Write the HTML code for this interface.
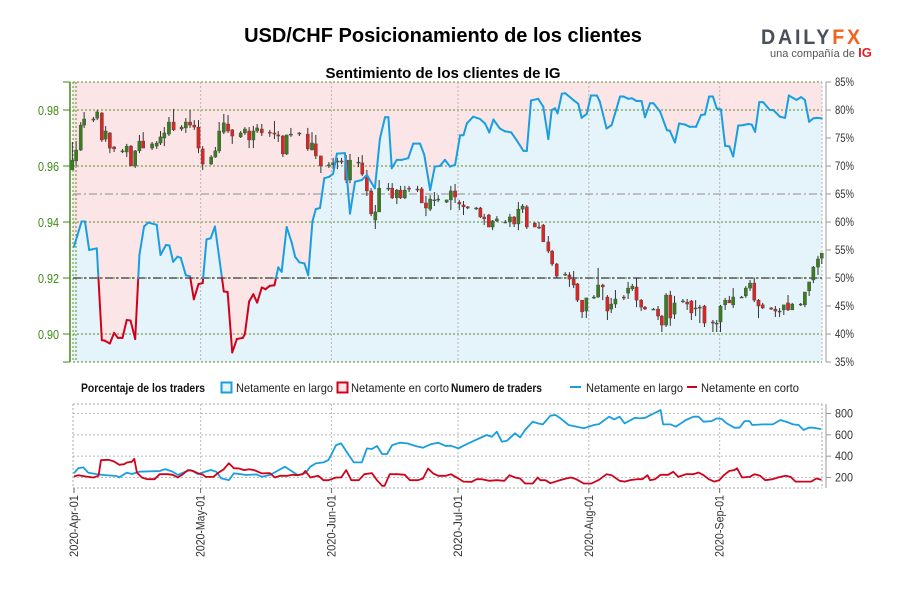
<!DOCTYPE html>
<html><head><meta charset="utf-8"><style>
body{margin:0;background:#fff;width:900px;height:600px;overflow:hidden;font-family:"Liberation Sans",sans-serif}
svg text{font-family:"Liberation Sans",sans-serif}
</style></head><body>
<svg id="c" width="900" height="600" xmlns="http://www.w3.org/2000/svg">
<text x="443" y="42" text-anchor="middle" font-size="20" font-weight="bold" fill="#000">USD/CHF Posicionamiento de los clientes</text>
<text x="443" y="78" text-anchor="middle" font-size="15" font-weight="bold" fill="#000">Sentimiento de los clientes de IG</text>
<g>
<text x="761" y="44" font-size="21" font-weight="bold" fill="#4a4f5a" letter-spacing="3" textLength="102" lengthAdjust="spacingAndGlyphs">DAILY<tspan fill="#f0641e">FX</tspan></text>
<text x="770" y="57" font-size="11" fill="#555">una compañía de <tspan fill="#e3202a" font-weight="bold" font-size="13">IG</tspan></text>
</g>
<g id="main"></g>
<g id="bottom"></g>
<g id="legend" font-size="12">
<text x="81" y="392" font-weight="bold" fill="#111" textLength="124" lengthAdjust="spacingAndGlyphs">Porcentaje de los traders</text>
<rect x="221.5" y="382.5" width="10" height="10" fill="#e5f3fb" stroke="#1a9ee0" stroke-width="2"/>
<text x="236" y="392" fill="#222" textLength="97" lengthAdjust="spacingAndGlyphs">Netamente en largo</text>
<rect x="337.5" y="382.5" width="10" height="10" fill="#fbe5e6" stroke="#d0021b" stroke-width="2"/>
<text x="351" y="392" fill="#222" textLength="98" lengthAdjust="spacingAndGlyphs">Netamente en corto</text>
<text x="451" y="392" font-weight="bold" fill="#111" textLength="91" lengthAdjust="spacingAndGlyphs">Numero de traders</text>
<line x1="570" y1="387" x2="581" y2="387" stroke="#1a9ee0" stroke-width="2"/>
<text x="586" y="392" fill="#222" textLength="97" lengthAdjust="spacingAndGlyphs">Netamente en largo</text>
<line x1="687" y1="387" x2="697" y2="387" stroke="#d0021b" stroke-width="2"/>
<text x="701" y="392" fill="#222" textLength="98" lengthAdjust="spacingAndGlyphs">Netamente en corto</text>
</g>
</svg>
<script>
// ---- data ----
var monthLabels=["2020-Apr-01","2020-May-01","2020-Jun-01","2020-Jul-01","2020-Aug-01","2020-Sep-01"];
var monthDays=[0,30,61,91,122,153];
var pctTicks=[85,80,75,70,65,60,55,50,45,40,35];
var priceTicks=[0.98,0.96,0.94,0.92,0.90];
var countTicks=[200,400,600,800];
var sentDays=[0,1.8,2.6,3.6,5.4,6.6,7.3,8.5,9.5,10.4,11.5,12.5,13.4,14.5,15.5,16.6,17.6,19.6,20.5,21.8,22.6,23.5,24.5,25.3,26.5,27.5,28.4,29.5,30.5,31.4,32.4,33.4,35.5,36.4,37.5,38.6,40.0,40.5,41.5,42.5,43.4,44.5,45.4,46.4,47.5,48.4,49.2,50.4,51.6,52.4,53.4,54.6,55.5,56.5,57.3,58.3,59.3,60.5,61.4,62.3,64.2,65.4,66.6,68.2,69.4,71.3,72.5,73.7,74.5,75.3,76.5,77.7,79.2,80.4,82.0,83.0,84.4,85.5,86.7,87.9,89.1,90.3,91.5,92.3,93.1,94.6,96.2,97.4,98.4,99.4,100.9,102.1,103.6,104.9,106.5,107.3,108.3,110.0,111.2,112.4,113.2,114.0,114.6,115.6,116.4,118.3,119.5,120.3,121.5,122.5,123.9,124.6,126.2,127.4,129.4,130.2,131.4,132.2,133.3,134.5,135.3,136.5,137.3,138.9,140.5,141.2,142.4,143.4,144.8,145.9,147.4,148.6,149.5,150.5,151.4,152.3,153.3,154.3,155.3,156.2,157.4,158.6,159.8,160.6,161.4,162.4,163.3,164.9,165.7,167.3,168.5,169.4,170.5,171.2,172.3,173.2,174.2,175.2,176.0,177.2];
var sentLong=[55.6,60.1,60.1,55,55.3,38.9,38.8,38.3,40.2,39.3,39.3,42.5,42.4,39.1,54.1,59.2,59.9,59.5,54.1,55.9,55.8,52.9,53.8,53.6,50.5,50.3,46.2,48.9,49.1,56.9,57.1,59.2,47.6,47.5,36.7,39.1,39.3,40,45.8,47.1,45.6,48.3,48,48.6,48.7,51.9,51.1,59.1,56.3,53.8,52.8,52.6,50.5,60.1,62.3,62.5,67.8,68.1,68.6,72.2,72.3,61.5,67.2,67.5,68.4,66,74.9,78.7,78.7,69.6,71.1,71.1,71.4,74,74,72,65.7,69.9,70,71.1,69.9,70.2,75.5,75.5,77.6,78.8,78.4,77.6,76,78.3,76.7,76.2,76,74.6,72.7,72.7,81.7,82,80.6,74.8,80,80.3,79.4,82.9,83,81.8,81.1,78.6,79.3,82.6,82.6,81.5,76.7,77.3,82.4,82.4,82,82.1,81.6,81.6,78.7,81.2,81.2,79.7,76.4,76.3,74.2,77.6,77.4,77,77,79.1,79.2,82.4,82.4,80.3,80.1,73.6,73.5,71.7,77.2,77.3,77.5,77.4,76.1,81.4,81.4,80,80,78.8,78.6,82.6,82.1,81.8,82.3,81.8,77.9,78.5,78.6,78.5];
var candleDays=[-0.4,0.5,1.6,2.4,4.6,5.5,6.6,7.5,8.5,9.5,11.5,12.5,13.5,14.5,15.5,16.4,18.5,19.6,20.5,21.4,22.5,23.6,25.5,26.5,27.5,28.5,29.5,30.5,32.5,33.5,34.4,35.5,36.5,37.5,39.5,40.5,41.5,42.5,43.4,44.5,46.4,47.5,48.4,49.5,50.4,51.4,53.4,55.4,56.4,57.3,58.5,60.4,61.4,62.4,63.4,64.5,65.4,67.4,68.3,69.4,70.4,71.4,72.3,74.5,75.4,76.5,77.4,78.4,79.4,81.4,82.4,83.4,84.4,85.4,86.3,88.3,89.3,90.3,91.3,92.3,93.3,95.3,96.3,97.2,98.3,99.2,100.2,102.2,103.3,104.3,105.3,106.3,107.3,109.2,110.2,111.2,112.4,113.3,114.4,116.4,117.4,118.4,119.3,120.4,121.4,123.2,124.2,125.3,126.4,127.3,128.3,130.3,131.3,132.3,133.3,134.4,135.3,137.3,138.4,139.3,140.3,141.3,142.3,144.3,145.3,146.3,147.3,148.3,149.4,151.4,152.3,153.2,154.3,155.3,156.2,158.2,159.2,160.2,161.2,162.2,163.2,165.2,166.2,167.2,168.2,169.2,170.2,172.2,173.2,174.2,175.2,176.3,177.2];
var opens=[.9586,.9618,.9657,.9746,.9764,.9771,.9789,.9696,.9718,.9668,.9654,.9650,.9671,.9600,.9654,.9689,.9664,.9671,.9682,.9700,.9714,.9757,.9732,.9736,.9757,.9746,.9739,.9661,.9607,.9632,.9654,.9721,.9750,.9729,.9704,.9718,.9725,.9693,.9725,.9732,.9721,.9718,.9711,.9707,.9643,.9711,.9714,.9714,.9657,.9679,.9636,.9600,.9604,.9614,.9618,.9621,.9550,.9611,.9611,.9564,.9511,.9407,.9436,.9521,.9521,.9486,.9514,.9486,.9521,.9518,.9518,.9468,.9446,.9479,.9482,.9471,.9479,.9511,.9471,.9461,.9454,.9450,.9450,.9418,.9425,.9382,.9404,.9400,.9400,.9418,.9393,.9446,.9454,.9396,.9382,.9389,.9329,.9296,.9250,.9214,.9211,.9196,.9179,.9121,.9082,.9132,.9132,.9175,.9132,.9089,.9107,.9132,.9146,.9161,.9168,.9121,.9096,.9089,.9089,.9064,.9032,.9139,.9071,.9118,.9114,.9118,.9093,.9093,.9100,.9043,.9039,.9043,.9104,.9121,.9104,.9132,.9136,.9164,.9182,.9121,.9104,.9093,.9089,.9082,.9086,.9111,.9086,.9107,.9104,.9154,.9193,.9239,.9271];
var highs=[.9686,.9689,.9757,.9793,.9775,.9800,.9793,.9743,.9721,.9671,.9661,.9679,.9675,.9657,.9711,.9721,.9686,.9689,.9725,.9739,.9775,.9804,.9746,.9771,.9800,.9764,.9764,.9671,.9639,.9668,.9757,.9786,.9782,.9732,.9725,.9739,.9739,.9743,.9750,.9750,.9729,.9761,.9725,.9711,.9711,.9736,.9721,.9736,.9721,.9711,.9636,.9614,.9629,.9629,.9629,.9639,.9643,.9632,.9639,.9586,.9521,.9461,.9550,.9539,.9539,.9518,.9529,.9529,.9529,.9529,.9525,.9493,.9496,.9507,.9496,.9479,.9529,.9536,.9479,.9475,.9457,.9454,.9454,.9429,.9429,.9407,.9421,.9407,.9429,.9421,.9471,.9464,.9461,.9400,.9400,.9393,.9350,.9300,.9254,.9221,.9221,.9225,.9182,.9121,.9129,.9139,.9236,.9179,.9139,.9129,.9157,.9139,.9186,.9179,.9200,.9125,.9100,.9093,.9100,.9068,.9146,.9154,.9136,.9125,.9125,.9121,.9121,.9104,.9104,.9050,.9050,.9104,.9129,.9136,.9164,.9136,.9171,.9193,.9200,.9125,.9111,.9096,.9100,.9093,.9104,.9139,.9111,.9111,.9150,.9186,.9243,.9279,.9286];
var lows=[.9586,.9600,.9654,.9736,.9757,.9764,.9686,.9686,.9646,.9650,.9646,.9632,.9600,.9593,.9646,.9664,.9657,.9661,.9675,.9671,.9707,.9725,.9725,.9718,.9736,.9729,.9646,.9586,.9604,.9629,.9646,.9714,.9718,.9679,.9700,.9711,.9664,.9664,.9718,.9707,.9704,.9696,.9686,.9632,.9639,.9704,.9707,.9654,.9657,.9625,.9575,.9593,.9589,.9589,.9607,.9539,.9539,.9596,.9564,.9493,.9421,.9375,.9436,.9511,.9482,.9464,.9482,.9482,.9507,.9507,.9468,.9421,.9439,.9457,.9471,.9468,.9443,.9468,.9443,.9425,.9446,.9443,.9414,.9389,.9382,.9371,.9400,.9396,.9382,.9382,.9371,.9432,.9375,.9382,.9375,.9329,.9289,.9243,.9200,.9207,.9168,.9164,.9114,.9057,.9057,.9125,.9129,.9121,.9050,.9075,.9093,.9121,.9125,.9154,.9096,.9082,.9086,.9086,.9050,.9007,.9025,.9029,.9054,.9111,.9086,.9050,.9064,.9039,.9025,.9007,.9007,.9007,.9086,.9111,.9093,.9129,.9129,.9154,.9114,.9057,.9089,.9086,.9061,.9061,.9068,.9082,.9086,.9100,.9096,.9136,.9182,.9211,.9250];
var closes=[.9621,.9657,.9746,.9768,.9768,.9793,.9693,.9725,.9664,.9661,.9654,.9671,.9600,.9654,.9689,.9664,.9679,.9682,.9704,.9718,.9757,.9729,.9739,.9757,.9746,.9739,.9664,.9607,.9632,.9654,.9725,.9754,.9725,.9707,.9718,.9732,.9693,.9725,.9736,.9718,.9718,.9714,.9707,.9643,.9711,.9714,.9718,.9661,.9682,.9636,.9600,.9604,.9611,.9618,.9614,.9550,.9621,.9614,.9571,.9511,.9429,.9436,.9521,.9521,.9486,.9514,.9486,.9514,.9518,.9514,.9468,.9450,.9482,.9479,.9482,.9479,.9511,.9489,.9464,.9454,.9450,.9450,.9418,.9411,.9382,.9404,.9411,.9400,.9418,.9393,.9446,.9457,.9382,.9382,.9379,.9329,.9296,.9250,.9207,.9214,.9196,.9175,.9121,.9079,.9129,.9132,.9175,.9168,.9082,.9107,.9125,.9129,.9164,.9171,.9121,.9096,.9089,.9089,.9064,.9032,.9139,.9057,.9111,.9118,.9107,.9075,.9093,.9096,.9039,.9039,.9039,.9100,.9121,.9111,.9132,.9132,.9164,.9182,.9121,.9100,.9093,.9089,.9082,.9082,.9104,.9086,.9107,.9107,.9150,.9186,.9239,.9268,.9289];
var longCountDays=[0,1.0,2.2,3.4,5.2,7.0,10.1,10.7,12.5,13.7,15.5,20.3,21.6,23.4,24.6,26.4,27.6,29.4,30.6,32.4,33.7,34.9,36.7,37.9,40.9,43.3,44.5,46.4,50.0,51.8,53.0,54.8,56.0,57.3,59.1,60.3,62.1,63.3,65.1,66.3,68.2,69.4,70.6,71.8,73.0,74.2,75.4,77.2,79.0,80.9,82.7,84.5,86.3,88.1,89.3,91.1,92.3,94.8,97.8,99.0,100.2,101.4,102.6,104.5,105.7,106.9,108.7,109.9,111.1,112.9,114.1,115.3,117.2,120.8,123.2,124.4,126.8,128.0,129.3,130.5,132.9,134.1,135.3,139.0,139.6,141.4,142.6,145.0,146.8,148.0,149.2,151.1,152.3,153.5,154.7,156.5,157.7,158.9,160.1,160.7,163.2,165.6,167.4,169.2,170.4,171.7,172.9,174.1,175.3,177.0];
var longCounts=[240,286,295,245,233,223,214,201,245,233,254,261,279,254,223,254,270,232,248,270,254,192,176,239,223,229,207,223,301,254,223,239,301,332,342,364,504,520,411,342,342,473,467,495,420,420,504,526,520,495,479,511,526,495,498,473,498,545,598,582,629,536,545,614,576,645,723,707,698,779,786,754,692,661,692,701,770,745,770,707,760,754,760,832,698,698,676,739,770,770,723,729,754,748,707,667,667,729,729,692,698,698,739,717,698,692,645,667,667,654];
var shortCountDays=[0,1.0,2.8,4.6,5.8,6.4,8.2,9.5,10.7,11.9,12.5,13.7,14.3,14.9,16.1,17.3,19.1,20.3,22.2,23.4,24.6,25.8,27.0,28.2,29.4,30.6,31.2,33.0,34.3,35.5,36.7,37.9,39.1,40.3,41.5,42.7,44.5,46.4,47.6,48.8,50.6,51.8,53.0,54.2,54.8,56.0,57.9,59.1,60.3,62.1,63.3,64.5,65.7,67.5,68.8,70.6,71.8,73.0,73.6,74.8,76.6,78.4,79.6,81.5,82.7,83.9,85.1,86.3,88.1,89.3,91.1,92.3,94.2,95.4,96.6,98.4,100.2,102.0,103.2,104.5,105.7,106.9,108.7,109.9,110.5,111.7,112.9,114.7,116.6,117.8,119.0,120.8,122.6,124.4,126.2,127.4,129.3,130.5,131.7,133.5,134.7,135.9,136.5,137.7,139.0,140.8,142.0,143.2,145.0,146.8,148.0,149.2,150.4,151.7,152.9,154.1,155.3,156.5,157.1,158.3,160.1,161.3,162.6,163.8,165.6,166.8,168.6,169.8,171.0,172.9,174.7,175.9,177.1];
var shortCounts=[209,222,209,200,216,362,366,350,319,325,341,347,375,247,200,184,184,231,231,225,200,231,269,262,238,225,206,206,247,278,334,287,284,269,278,269,238,241,200,216,216,225,222,231,262,200,216,175,175,200,200,269,175,175,231,241,175,122,122,231,231,225,175,175,191,284,238,216,216,231,191,162,159,184,184,169,175,169,222,200,191,144,144,200,175,175,147,169,191,200,184,144,144,178,231,222,169,162,175,184,184,222,175,184,225,225,253,206,231,231,247,222,184,162,175,225,262,269,287,200,206,231,216,175,184,200,216,206,162,162,162,191,178];

// ---- scales ----
var X0=74, DX=4.22;
function xDay(d){return X0+d*DX;}
function yPct(p){return 82+(85-p)*5.6;}
function yPrice(v){return 82+(0.99-v)*2800;}
function yCnt(c){return 477.5-(c-200)*64/600;}
var NS="http://www.w3.org/2000/svg";
function mk(tag,attrs,parent){var e=document.createElementNS(NS,tag);for(var k in attrs)e.setAttribute(k,attrs[k]);parent.appendChild(e);return e;}
var main=document.getElementById('main'), bot=document.getElementById('bottom');
var L=73,R=822,T=82,B=362;

var bg=mk('rect',{x:L,y:T,width:R-L,height:B-T,fill:'#fbe5e6'},main);


var pts=[];for(var i=0;i<sentDays.length;i++)pts.push([xDay(sentDays[i]),yPct(sentLong[i])]);
var d='M'+L+','+B+' L'+L+','+pts[0][1];pts.forEach(function(p){d+=' L'+p[0].toFixed(1)+','+p[1].toFixed(1);});d+=' L'+R+','+pts[pts.length-1][1].toFixed(1)+' L'+R+','+B+' Z';
var la=mk('path',{d:d,fill:'#e5f3fb'},main);



priceTicks.forEach(function(v){var y=yPrice(v);var g=mk('line',{x1:L,x2:R,y1:y,y2:y,stroke:'#5b8a2a','stroke-width':1,'stroke-dasharray':'2,2'},main);

});
[T,B].forEach(function(y){var g=mk('line',{x1:L,x2:R,y1:y,y2:y,stroke:'#5b8a2a','stroke-width':1,'stroke-dasharray':'2,2'},main);

});
[L,L+3].forEach(function(x){var g=mk('line',{x1:x,x2:x,y1:T,y2:B,stroke:'#5b8a2a','stroke-width':1,'stroke-dasharray':'2,2'},main);

});
monthDays.forEach(function(m){var x=xDay(m);if(m===0)return;var g=mk('line',{x1:x,x2:x,y1:T,y2:B,stroke:'#b8b8b8','stroke-dasharray':'2,2'},main);

});
var rb=mk('line',{x1:R,x2:R,y1:T,y2:B,stroke:'#b8b8b8','stroke-dasharray':'2,2'},main);


var l65=mk('line',{x1:L,x2:R,y1:yPct(65),y2:yPct(65),stroke:'#a0a0a0','stroke-width':1.3,'stroke-dasharray':'8,3,2,3'},main);


var l50=mk('line',{x1:L,x2:R,y1:yPct(50),y2:yPct(50),stroke:'#555','stroke-width':1.5,'stroke-dasharray':'8,3,2,3'},main);



for(var i=0;i<candleDays.length;i++){
 var x=xDay(candleDays[i]),o=opens[i],c=closes[i];
 var w=mk('line',{x1:x,x2:x,y1:yPrice(highs[i]),y2:yPrice(lows[i]),stroke:'#333','stroke-width':1},main);
 
 
 var y1=yPrice(Math.max(o,c)),y2=yPrice(Math.min(o,c));
 var b=mk('rect',{x:x-1.6,y:y1,width:3.2,height:Math.max(1,y2-y1),fill:c>=o?'#3a7d1f':'#e02424',stroke:'#444','stroke-width':0.4},main);
 
 
}

function seg(a,b,col){var s=mk('line',{x1:a[0],y1:a[1],x2:b[0],y2:b[1],stroke:col,'stroke-width':2,'stroke-linecap':'round'},main);

}
var y50=yPct(50);
for(var i=0;i<pts.length-1;i++){
 var a=pts[i],b=pts[i+1],va=sentLong[i],vb=sentLong[i+1];
 if((va-50)*(vb-50)<0){var t=(va-50)/(va-vb);var m=[a[0]+t*(b[0]-a[0]),y50];seg(a,m,va>50?'#1a9ee0':'#d0021b');seg(m,b,vb>50?'#1a9ee0':'#d0021b');}
 else seg(a,b,(va+vb)/2>=50?'#1a9ee0':'#d0021b');
}

var la2=mk('line',{x1:70,x2:70,y1:T,y2:B,stroke:'#3d8a14','stroke-width':1.5},main);


[T,B].forEach(function(y){mk('line',{x1:63,x2:70,y1:y,y2:y,stroke:'#3d8a14'},main);});
priceTicks.forEach(function(v){var y=yPrice(v);mk('line',{x1:63,x2:70,y1:y,y2:y,stroke:'#3d8a14'},main);
var t=mk('text',{x:59,y:y+5,'text-anchor':'end','font-size':13,fill:'#3d8a14',textLength:21,lengthAdjust:'spacingAndGlyphs'},main);t.textContent=v.toFixed(2);

});
var ra=mk('line',{x1:826,x2:826,y1:T,y2:B,stroke:'#999'},main);


pctTicks.forEach(function(p){var y=yPct(p);mk('line',{x1:826,x2:831,y1:y,y2:y,stroke:'#999'},main);
var t=mk('text',{x:835,y:y+4,'font-size':12,fill:'#333',textLength:19,lengthAdjust:'spacingAndGlyphs'},main);t.textContent=p+'%';

});

var BT=404,BB=488;
countTicks.forEach(function(c){var y=yCnt(c);var g=mk('line',{x1:L,x2:R,y1:y,y2:y,stroke:'#bbb','stroke-dasharray':'2,2'},bot);

});
var bt=mk('line',{x1:L,x2:R,y1:BT,y2:BT,stroke:'#aaa','stroke-dasharray':'2,2'},bot);


var bb=mk('line',{x1:L,x2:R,y1:BB,y2:BB,stroke:'#aaa','stroke-dasharray':'2,2'},bot);


mk('line',{x1:L,x2:L,y1:BT,y2:BB,stroke:'#aaa','stroke-dasharray':'2,2'},bot);
mk('line',{x1:R,x2:R,y1:BT,y2:BB,stroke:'#aaa','stroke-dasharray':'2,2'},bot);
monthDays.forEach(function(m,i){var x=xDay(m);
 if(m>0){var g=mk('line',{x1:x,x2:x,y1:BT,y2:BB,stroke:'#bbb','stroke-dasharray':'2,2'},bot);
 
 }
 mk('line',{x1:x,x2:x,y1:BB,y2:BB+5,stroke:'#666'},bot);
 var t=mk('text',{x:0,y:0,'text-anchor':'end','font-size':12,fill:'#333',textLength:62,lengthAdjust:'spacingAndGlyphs',transform:'translate('+(x+4)+','+(BB+7)+') rotate(-90)'},bot);t.textContent=monthLabels[i];
 
 
});
var ra2=mk('line',{x1:826,x2:826,y1:BT,y2:BB,stroke:'#999'},bot);


countTicks.forEach(function(c){var y=yCnt(c);mk('line',{x1:826,x2:831,y1:y,y2:y,stroke:'#999'},bot);
var t=mk('text',{x:835,y:y+4,'font-size':12,fill:'#333',textLength:18,lengthAdjust:'spacingAndGlyphs'},bot);t.textContent=c;

});
function poly(days,vals,col,name){var s='';for(var i=0;i<days.length;i++)s+=(i?' L':'M')+xDay(days[i]).toFixed(1)+','+yCnt(vals[i]).toFixed(1);
var p=mk('path',{d:s,fill:'none',stroke:col,'stroke-width':1.8,'stroke-linejoin':'round'},bot);

}
poly(longCountDays,longCounts,'#1a9ee0','long-count-line');
poly(shortCountDays,shortCounts,'#d0021b','short-count-line');
</script>
</body></html>
